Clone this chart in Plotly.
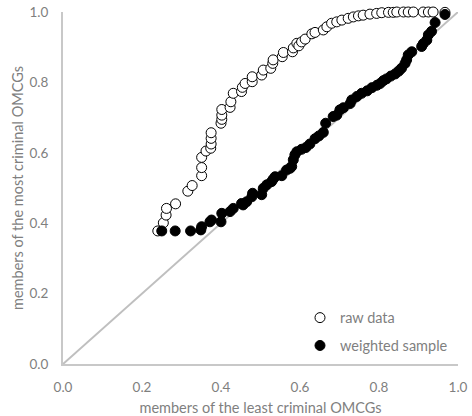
import plotly.graph_objects as go

# Share of members: least criminal OMCGs (x) vs most criminal OMCGs (y)
raw_x = [0.240, 0.254, 0.261, 0.262, 0.285, 0.316, 0.327, 0.351, 0.351, 0.351,
         0.362, 0.374, 0.375, 0.375, 0.375, 0.400, 0.402, 0.402, 0.402, 0.423,
         0.425, 0.431, 0.452, 0.454, 0.461, 0.479, 0.479, 0.503, 0.507, 0.526,
         0.531, 0.532, 0.555, 0.558, 0.581, 0.583, 0.592, 0.597, 0.604, 0.613,
         0.630, 0.638, 0.659, 0.668, 0.680, 0.693, 0.706, 0.722, 0.735, 0.748,
         0.760, 0.777, 0.794, 0.807, 0.824, 0.836, 0.845, 0.862, 0.874, 0.887,
         0.912, 0.925, 0.937, 0.967]
raw_y = [0.378, 0.401, 0.423, 0.442, 0.455, 0.491, 0.507, 0.535, 0.558, 0.587,
         0.605, 0.613, 0.625, 0.641, 0.657, 0.684, 0.695, 0.707, 0.723, 0.729,
         0.745, 0.769, 0.774, 0.786, 0.797, 0.802, 0.816, 0.821, 0.835, 0.840,
         0.854, 0.864, 0.873, 0.885, 0.887, 0.898, 0.911, 0.904, 0.915, 0.923,
         0.938, 0.942, 0.949, 0.958, 0.968, 0.972, 0.977, 0.982, 0.986, 0.989,
         0.991, 0.994, 0.996, 0.998, 0.999, 0.999, 1.000, 1.000, 1.000, 1.000,
         1.000, 1.000, 1.000, 0.999]

weighted_x = [0.250, 0.284, 0.323, 0.349, 0.351, 0.372, 0.376, 0.400, 0.402, 0.423,
              0.431, 0.452, 0.456, 0.465, 0.478, 0.480, 0.503, 0.507, 0.516, 0.528,
              0.532, 0.537, 0.554, 0.566, 0.575, 0.579, 0.583, 0.587, 0.592, 0.604,
              0.615, 0.625, 0.638, 0.648, 0.659, 0.665, 0.684, 0.693, 0.701, 0.710,
              0.727, 0.731, 0.744, 0.756, 0.770, 0.782, 0.795, 0.803, 0.811, 0.819,
              0.830, 0.841, 0.850, 0.857, 0.866, 0.870, 0.874, 0.883, 0.908, 0.912,
              0.921, 0.925, 0.933, 0.942, 0.967]
weighted_y = [0.378, 0.378, 0.378, 0.381, 0.390, 0.404, 0.409, 0.404, 0.428, 0.433,
              0.442, 0.456, 0.452, 0.461, 0.475, 0.485, 0.481, 0.499, 0.509, 0.518,
              0.525, 0.532, 0.535, 0.551, 0.556, 0.561, 0.580, 0.594, 0.603, 0.610,
              0.615, 0.625, 0.640, 0.648, 0.658, 0.684, 0.703, 0.707, 0.722, 0.728,
              0.740, 0.750, 0.760, 0.769, 0.776, 0.785, 0.792, 0.797, 0.805, 0.810,
              0.818, 0.824, 0.832, 0.840, 0.854, 0.864, 0.878, 0.887, 0.902, 0.910,
              0.920, 0.935, 0.945, 0.970, 0.993]

diag = [0.0, 1.0]
ticks = [0.0, 0.2, 0.4, 0.6, 0.8, 1.0]

FONT = "Lato, 'Open Sans', sans-serif"
TEXT_GREY = "#7f7f7f"
AXIS_GREY = "#c8c8c8"

fig = go.Figure()

fig.add_trace(go.Scatter(
    x=diag, y=diag, mode="lines",
    line=dict(color="#bfbfbf", width=2),
    showlegend=False, hoverinfo="skip", cliponaxis=False,
))

fig.add_trace(go.Scatter(
    x=raw_x, y=raw_y, mode="markers", name="raw data",
    legendgroup="a", cliponaxis=False,
    marker=dict(symbol="circle", size=10, color="white",
                line=dict(color="black", width=1)),
))

fig.add_trace(go.Scatter(
    x=weighted_x, y=weighted_y, mode="markers", name="weighted sample",
    legendgroup="b", cliponaxis=False,
    marker=dict(symbol="circle", size=10, color="black",
                line=dict(color="black", width=1)),
))

axis_common = dict(
    range=[0, 1], tickvals=ticks, tickformat=".1f",
    showgrid=False, zeroline=False, showline=True,
    linecolor=AXIS_GREY, linewidth=2, ticks="",
    tickfont=dict(family=FONT, size=13.5, color=TEXT_GREY),
    ticklabelstandoff=10, automargin=False,
    fixedrange=True,
)

fig.update_layout(
    width=472, height=416,
    margin=dict(l=63, r=14, t=12, b=52, autoexpand=False),
    paper_bgcolor="white", plot_bgcolor="white",
    font=dict(family=FONT, color=TEXT_GREY),
    xaxis=dict(**axis_common,
               title=dict(text="members of the least criminal OMCGs",
                          font=dict(family=FONT, size=14.5, color=TEXT_GREY),
                          standoff=9)),
    yaxis=dict(**axis_common,
               title=dict(text="members of the most criminal OMCGs",
                          font=dict(family=FONT, size=14.5, color=TEXT_GREY),
                          standoff=2)),
    legend=dict(
        x=0.60, y=0.177, xanchor="left", yanchor="top",
        bgcolor="rgba(0,0,0,0)", borderwidth=0,
        font=dict(family=FONT, size=14.5, color=TEXT_GREY),
        itemwidth=30, tracegroupgap=6, traceorder="grouped",
    ),
)

fig.write_html("out.html")
